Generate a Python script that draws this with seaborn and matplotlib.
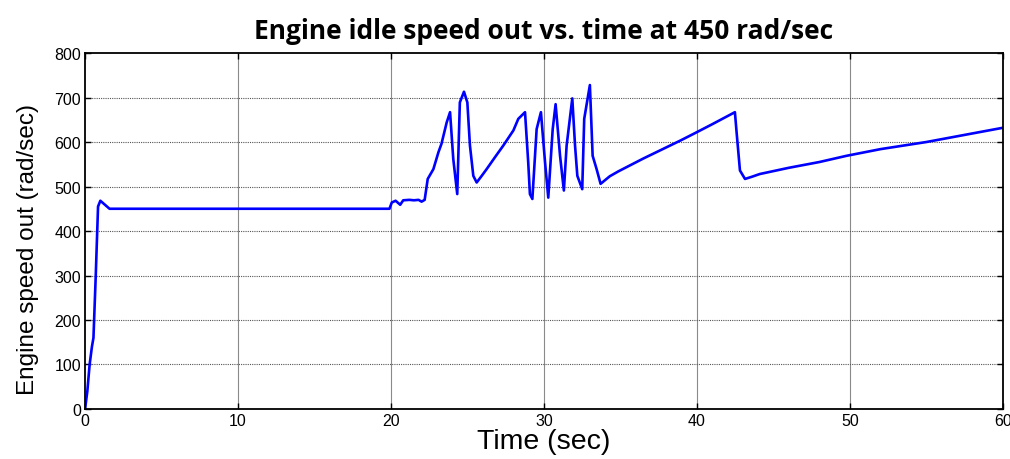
import matplotlib
matplotlib.use("Agg")
import matplotlib.pyplot as plt
import seaborn as sns
import pandas as pd

# Engine speed response of the idle-speed controller (setpoint 450 rad/sec)
time_s = [
    0.0, 0.15, 0.3, 0.45, 0.55, 0.7, 0.85, 1.0, 1.2, 1.6,
    19.9, 20.05, 20.3, 20.6, 20.8, 21.2, 21.5, 21.8, 22.0, 22.2,
    22.4, 22.77, 23.1, 23.3, 23.64, 23.86, 24.07, 24.33,
    24.5, 24.77, 24.99, 25.16, 25.38, 25.6, 25.93, 26.25, 26.8, 27.34,
    28.0, 28.32, 28.76, 28.97, 29.08, 29.24, 29.52, 29.8, 30.07, 30.28,
    30.57, 30.76, 31.05, 31.3, 31.48, 31.85, 32.03, 32.18, 32.5, 32.63,
    33.0, 33.18, 33.44, 33.7, 34.3, 34.86, 36.5, 38.9, 39.76, 41.0,
    42.48, 42.59, 42.81, 43.14, 43.6, 44.1, 46.0, 48.0, 49.78, 52.0,
    55.0, 57.5, 60.0,
]
speed_rad_s = [
    0, 40, 100, 140, 160, 300, 455, 468, 462, 450,
    450, 464, 468, 459, 469, 470, 469, 470, 466, 470,
    517, 539, 577, 596, 644, 667, 562, 483,
    689, 713, 689, 592, 524, 509, 524, 539, 566, 592,
    626, 652, 667, 554, 483, 472, 629, 667, 554, 475,
    629, 685, 569, 491, 592, 698, 592, 524, 494, 652,
    728, 569, 539, 506, 523, 534, 563, 603, 618, 640,
    667, 622, 536, 517, 522, 528, 542, 555, 569, 584,
    600, 616, 632,
]

x_ticks = list(range(0, 61, 10))
y_ticks = list(range(0, 801, 100))

df = pd.DataFrame({"Time (sec)": time_s, "Engine speed out (rad/sec)": speed_rad_s})

sns.set_theme(style="white")
plt.rcParams["font.family"] = ["Liberation Sans", "DejaVu Sans"]
plt.rcParams["text.color"] = "black"
plt.rcParams["axes.labelcolor"] = "black"

fig = plt.figure(figsize=(10.1, 4.6), dpi=100)
ax = fig.add_axes([0.0842, 0.1087, 0.9088, 0.7739])

sns.lineplot(data=df, x="Time (sec)", y="Engine speed out (rad/sec)",
             ax=ax, color="#0000FF", linewidth=1.9, sort=False)

ax.set_xlim(0, 60)
ax.set_ylim(0, 800)
ax.set_xticks(x_ticks)
ax.set_yticks(y_ticks)

# MATLAB-style grid: light solid verticals, dotted horizontals
for xt in x_ticks[1:-1]:
    ax.axvline(xt, color="#8a8a8a", linewidth=0.8, zorder=0)
for yt in y_ticks[1:-1]:
    ax.axhline(yt, color="#555555", linewidth=0.8, linestyle=(0, (1, 1)), zorder=0)

for sp in ax.spines.values():
    sp.set_color("black")
    sp.set_linewidth(1.3)

ax.tick_params(axis="both", direction="in", length=4, width=1, colors="black",
               labelsize=11.5, top=True, right=True, bottom=True, left=True, pad=3)

ax.set_xlabel("Time (sec)", fontsize=20.5, labelpad=0)
ax.set_ylabel("Engine speed out (rad/sec)", fontsize=17.5)
ax.yaxis.set_label_coords(-0.05, 0.452)
ax.set_title("Engine idle speed out vs. time at 450 rad/sec",
             fontsize=19, fontweight="bold", family=["Open Sans", "DejaVu Sans"],
             pad=11, color="black")

fig.savefig("out.png", dpi=100)
